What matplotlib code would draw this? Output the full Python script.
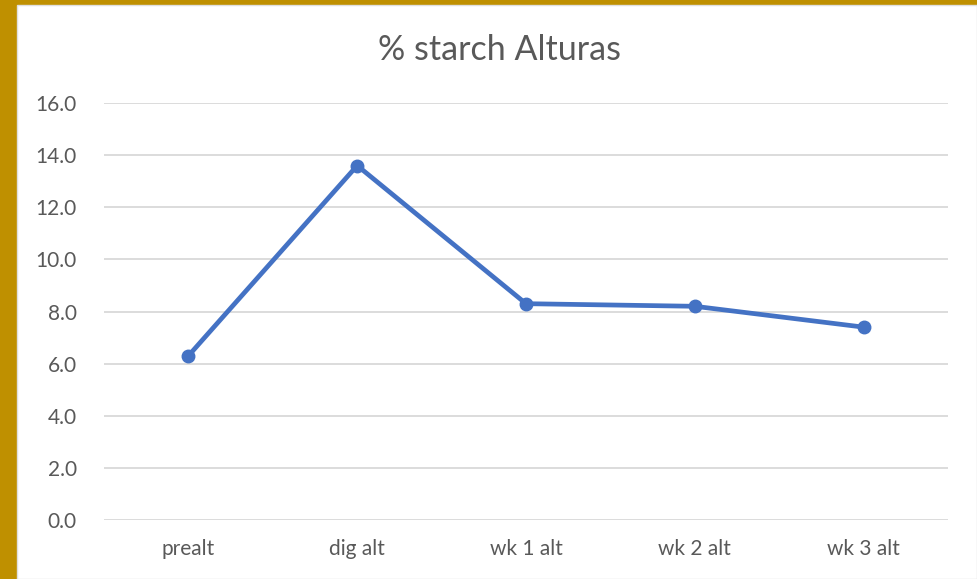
import matplotlib
matplotlib.use("Agg")
import matplotlib.pyplot as plt
from matplotlib.patches import Rectangle

categories = ["prealt", "dig alt", "wk 1 alt", "wk 2 alt", "wk 3 alt"]
values = [6.3, 13.6, 8.3, 8.2, 7.4]
yticks = [0, 2, 4, 6, 8, 10, 12, 14, 16]

W, H = 977, 579
fig = plt.figure(figsize=(W / 100, H / 100), dpi=100, facecolor="#BF9000")
fig.patches.append(Rectangle((17 / W, 0), 1 - 17 / W, 1 - 5 / H, transform=fig.transFigure,
                             facecolor="white", edgecolor="#E0E0E0", linewidth=1, zorder=-10))

ax = fig.add_axes([104 / W, 59 / H, 844 / W, 417 / H])
ax.set_facecolor("none")
x = list(range(len(categories)))
ax.plot(x, values, color="#4472C4", linewidth=3.4, marker="o", markersize=9,
        solid_capstyle="round", zorder=3)
ax.set_xlim(-0.5, len(categories) - 0.5)
ax.set_ylim(0, 16)
ax.set_yticks(yticks)
ax.set_yticklabels([f"{v:.1f}" for v in yticks])
ax.set_xticks(x)
ax.set_xticklabels(categories)
ax.grid(axis="y", color="#D9D9D9", linewidth=1.3)
ax.set_axisbelow(True)
for s in ax.spines.values():
    s.set_visible(False)
ax.tick_params(length=0, labelsize=15, labelcolor="#595959")
ax.tick_params(axis="y", pad=19.5)
ax.tick_params(axis="x", pad=14)
for lab in ax.get_xticklabels() + ax.get_yticklabels():
    lab.set_fontfamily("Lato")

fig.text(500 / W, 1 - 50 / H, "% starch Alturas", ha="center", va="center",
         fontsize=24.5, color="#595959", fontfamily="Lato")

fig.savefig("out.png", dpi=100, facecolor=fig.get_facecolor())
